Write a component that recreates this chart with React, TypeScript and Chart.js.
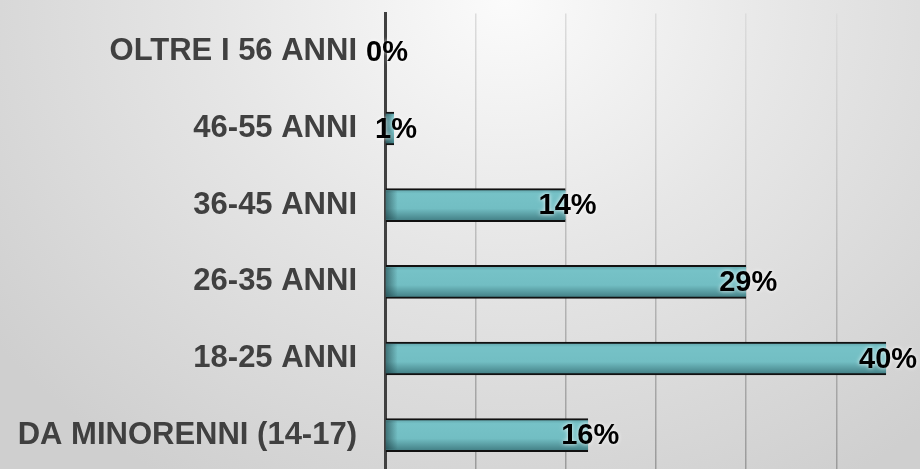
import React, { useEffect, useRef } from "react";
import { Chart, registerables } from "chart.js";

Chart.register(...registerables);

const categories = [
  "OLTRE I 56 ANNI",
  "46-55 ANNI",
  "36-45 ANNI",
  "26-35 ANNI",
  "18-25 ANNI",
  "DA MINORENNI (14-17)",
];
const counts = [0, 2, 40, 80, 111, 45];
const percentLabels = ["0%", "1%", "14%", "29%", "40%", "16%"];
const gridStep = 20;
const axisMax = 118.5;

const W = 920;
const H = 480;
const BAR = 33;

export default function App() {
  const ref = useRef<HTMLCanvasElement | null>(null);

  useEffect(() => {
    const canvas = ref.current;
    if (!canvas) return;

    const barShade = {
      id: "barShade",
      afterDatasetsDraw(chart: any) {
        const ctx = chart.ctx;
        const meta = chart.getDatasetMeta(0);
        ctx.save();
        meta.data.forEach((bar: any) => {
          const { x, y, base, height } = bar.getProps(["x", "y", "base", "height"], true);
          const w = x - base;
          if (w <= 0) return;
          const sw = Math.min(12, w);
          const g = ctx.createLinearGradient(base, 0, base + sw, 0);
          g.addColorStop(0, "rgba(20,50,55,0.55)");
          g.addColorStop(1, "rgba(20,50,55,0)");
          ctx.fillStyle = g;
          ctx.fillRect(base, y - height / 2 + 2, sw, height - 4);
        });
        ctx.font = "bold 29px 'Liberation Sans', Arial, sans-serif";
        ctx.textAlign = "center";
        ctx.textBaseline = "middle";
        meta.data.forEach((bar: any, i: number) => {
          const { x, y } = bar.getProps(["x", "y"], true);
          ctx.shadowColor = "rgba(255,255,255,0.9)";
          ctx.shadowBlur = 4;
          ctx.fillStyle = "#000000";
          ctx.fillText(percentLabels[i], x + 2, y + 1);
        });
        ctx.restore();
      },
    };

    const chart = new Chart(canvas, {
      type: "bar",
      data: {
        labels: categories,
        datasets: [
          {
            data: counts,
            backgroundColor: (c: any) => {
              const ch = c.chart;
              const ys = ch.scales && ch.scales.y;
              if (!ch.chartArea || !ys || c.dataIndex === undefined) return "#72bfc4";
              const y = ys.getPixelForValue(c.dataIndex);
              const g = ch.ctx.createLinearGradient(0, y - BAR / 2, 0, y + BAR / 2);
              g.addColorStop(0, "#5e9fa5");
              g.addColorStop(0.15, "#76c2c7");
              g.addColorStop(0.6, "#72bec3");
              g.addColorStop(1, "#3f7a80");
              return g;
            },
            borderColor: "#111111",
            borderWidth: { top: 2, bottom: 2, left: 0, right: 0 },
            borderSkipped: false,
            barThickness: BAR,
          },
        ],
      },
      options: {
        indexAxis: "y",
        animation: false,
        responsive: false,
        maintainAspectRatio: false,
        layout: { padding: { top: 13.5, bottom: 6.5, left: 0, right: 0 } },
        plugins: {
          legend: { display: false },
          tooltip: { enabled: false },
        },
        scales: {
          x: {
            min: 0,
            max: axisMax,
            ticks: { display: false, stepSize: gridStep },
            border: { display: false },
            grid: {
              drawTicks: false,
              lineWidth: 1.5,
              color: (c: any) => {
                const ch = c.chart;
                if (c.tick && (c.tick.value === 0 || c.tick.value > 110)) return "rgba(0,0,0,0)";
                if (!ch.chartArea) return "#bbbbbb";
                const g = ch.ctx.createLinearGradient(0, ch.chartArea.top, 0, ch.chartArea.bottom);
                g.addColorStop(0, "#dcdcdc");
                g.addColorStop(1, "#9a9a9a");
                return g;
              },
            },
            afterFit: (s: any) => {
              s.height = 0;
              s.paddingLeft = 0;
              s.paddingRight = 0;
            },
          },
          y: {
            grid: { display: false, drawTicks: false },
            border: { display: true, color: "#404040", width: 3 },
            ticks: {
              padding: 28,
              color: "#404040",
              font: { family: "'Liberation Sans', Arial, sans-serif", size: 31, weight: "bold" },
            },
            afterFit: (s: any) => {
              s.width = 385;
              s.paddingTop = 0;
              s.paddingBottom = 0;
            },
          },
        },
      },
      plugins: [barShade],
    } as any);

    return () => chart.destroy();
  }, []);

  return (
    <div
      style={{
        position: "fixed",
        left: 0,
        top: 0,
        width: 920,
        height: 469,
        overflow: "hidden",
        background:
          "radial-gradient(ellipse 70% 120% at 55% 0%, #fbfbfb 0%, #e6e6e6 45%, #cfcfcf 100%)",
      }}
    >
      <canvas ref={ref} width={W} height={H} style={{ width: W, height: H, display: "block" }} />
    </div>
  );
}
